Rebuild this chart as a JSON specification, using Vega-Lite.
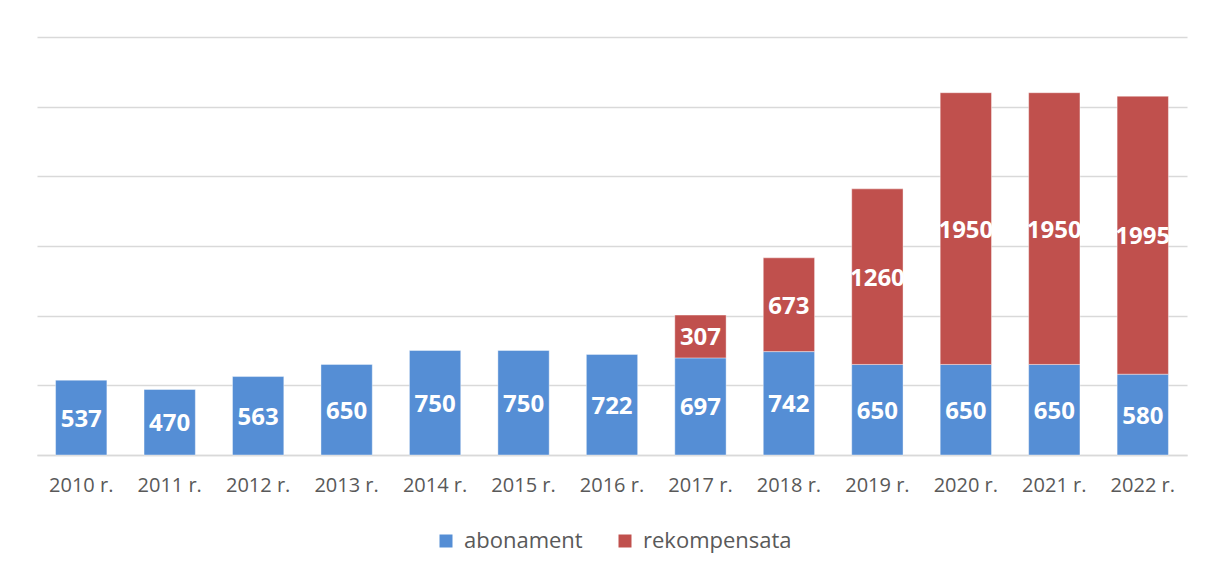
{
  "$schema": "https://vega.github.io/schema/vega-lite/v6.json",
  "width": 1150,
  "height": 418,
  "autosize": {"type": "none"},
  "padding": {"left": 37, "top": 37, "right": 25, "bottom": 122},
  "background": "white",
  "config": {
    "view": {"stroke": null},
    "font": "Open Sans"
  },
  "data": {
    "values": [
      {"year": "2010 r.", "series": "abonament", "value": 537},
      {"year": "2011 r.", "series": "abonament", "value": 470},
      {"year": "2012 r.", "series": "abonament", "value": 563},
      {"year": "2013 r.", "series": "abonament", "value": 650},
      {"year": "2014 r.", "series": "abonament", "value": 750},
      {"year": "2015 r.", "series": "abonament", "value": 750},
      {"year": "2016 r.", "series": "abonament", "value": 722},
      {"year": "2017 r.", "series": "abonament", "value": 697},
      {"year": "2018 r.", "series": "abonament", "value": 742},
      {"year": "2019 r.", "series": "abonament", "value": 650},
      {"year": "2020 r.", "series": "abonament", "value": 650},
      {"year": "2021 r.", "series": "abonament", "value": 650},
      {"year": "2022 r.", "series": "abonament", "value": 580},
      {"year": "2017 r.", "series": "rekompensata", "value": 307},
      {"year": "2018 r.", "series": "rekompensata", "value": 673},
      {"year": "2019 r.", "series": "rekompensata", "value": 1260},
      {"year": "2020 r.", "series": "rekompensata", "value": 1950},
      {"year": "2021 r.", "series": "rekompensata", "value": 1950},
      {"year": "2022 r.", "series": "rekompensata", "value": 1995}
    ]
  },
  "encoding": {
    "x": {
      "field": "year",
      "type": "nominal",
      "sort": null,
      "scale": {"paddingInner": 0.42, "paddingOuter": 0.21},
      "axis": {
        "title": null,
        "labelAngle": 0,
        "ticks": false,
        "domain": true,
        "domainColor": "#D9D9D9",
        "domainWidth": 1.5,
        "labelFont": "Open Sans",
        "labelFontSize": 20,
        "labelColor": "#595959",
        "labelPadding": 20
      }
    },
    "y": {
      "field": "value",
      "type": "quantitative",
      "stack": "zero",
      "scale": {"domain": [0, 3000], "nice": false},
      "axis": {
        "title": null,
        "labels": false,
        "ticks": false,
        "domain": false,
        "values": [0, 500, 1000, 1500, 2000, 2500, 3000],
        "gridColor": "#D9D9D9",
        "gridWidth": 1.5
      }
    },
    "color": {
      "field": "series",
      "type": "nominal",
      "scale": {"domain": ["abonament", "rekompensata"], "range": ["#558ED5", "#C0504D"]},
      "legend": {
        "title": null,
        "orient": "none",
        "direction": "horizontal",
        "legendX": 398,
        "legendY": 493,
        "padding": 0,
        "symbolType": "square",
        "symbolSize": 169,
        "symbolStrokeWidth": 0,
        "symbolOpacity": 1,
        "labelFont": "Open Sans",
        "labelFontSize": 22,
        "labelColor": "#595959",
        "labelOffset": 7,
        "columnPadding": 31
      }
    },
    "order": {"field": "series", "type": "nominal"}
  },
  "layer": [
    {
      "mark": {"type": "bar", "stroke": "#ffffff", "strokeOpacity": 0.4, "strokeWidth": 1}
    },
    {
      "mark": {
        "type": "text",
        "color": "white",
        "fontWeight": "bold",
        "fontSize": 24,
        "font": "Open Sans",
        "baseline": "middle",
        "dy": 2
      },
      "encoding": {
        "y": {"field": "value", "type": "quantitative", "stack": "zero", "bandPosition": 0.5},
        "text": {"field": "value", "type": "quantitative"},
        "color": {"value": "white"}
      }
    }
  ]
}
